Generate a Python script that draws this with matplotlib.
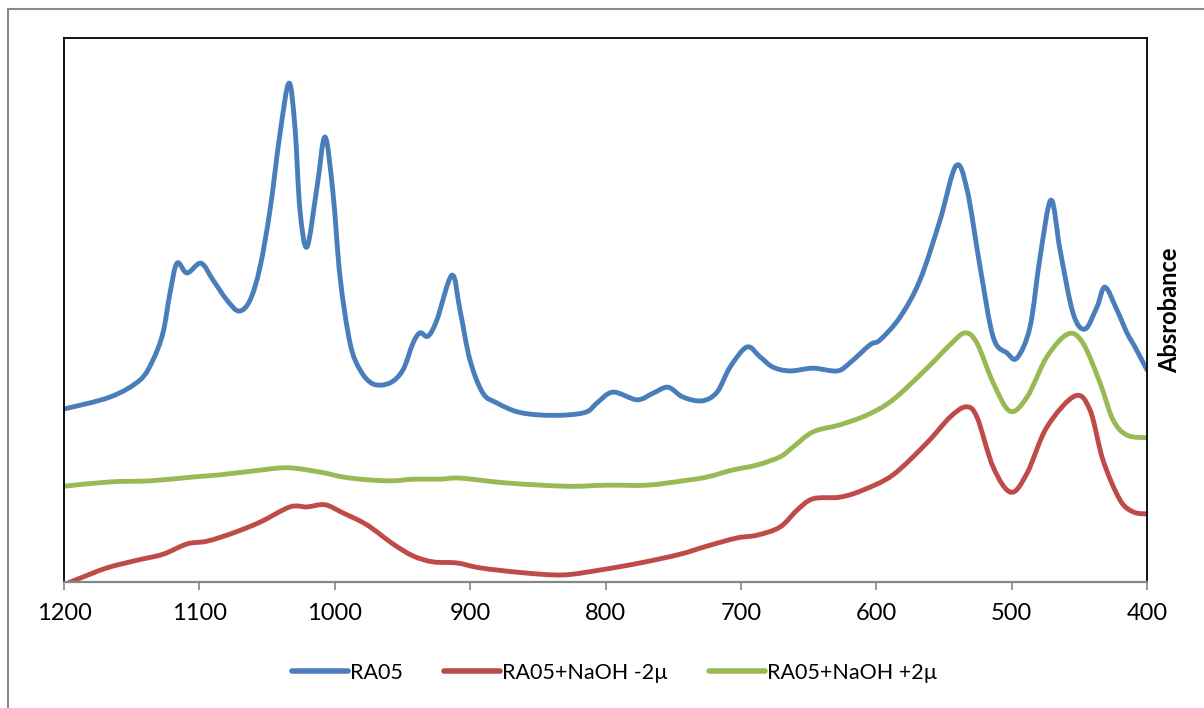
import numpy as np
import matplotlib
matplotlib.use("Agg")
import matplotlib.pyplot as plt
from matplotlib.path import Path
from matplotlib.patches import PathPatch, Rectangle
from matplotlib.lines import Line2D

plt.rcParams['font.family'] = ['Lato', 'DejaVu Sans']

# Wavenumber (cm-1) and absorbance (a.u.) for each sample
ra05_wn = [1200, 1166.0, 1144.0, 1134.3, 1126.9, 1121.7, 1116.5, 1109.1, 1098.8, 1089.9,
           1079.6, 1070.7, 1062.6, 1055.2, 1047.8, 1040.4, 1033.8, 1029.4, 1025.7, 1020.5,
           1013.1, 1007.2, 1001.3, 996.1, 988.7, 981.3, 971.7, 959.2, 949.6, 942.2,
           937.0, 931.1, 924.5, 913.4, 907.5, 900.1, 890.5, 880.1, 865.4, 848.4,
           828.4, 813.7, 806.3, 794.5, 776.7, 764.9, 753.8, 742.8, 728.7, 717.6,
           708.0, 695.5, 685.9, 676.3, 663.7, 646.7, 628.9, 619.4, 604.6, 597.2,
           582.4, 567.7, 552.9, 541.1, 532.9, 523.3, 513.6, 503.4, 496.0, 486.4,
           479.0, 470.9, 464.2, 454.6, 445.8, 436.9, 431.0, 422.2, 414.8, 408.9, 400]
ra05_abs = [0.318, 0.340, 0.371, 0.408, 0.458, 0.531, 0.586, 0.568, 0.586,
            0.555, 0.518, 0.498, 0.518, 0.579, 0.684, 0.825, 0.917, 0.836, 0.684,
            0.616, 0.726, 0.818, 0.715, 0.561, 0.439, 0.390, 0.364, 0.366, 0.390,
            0.439, 0.458, 0.452, 0.482, 0.564, 0.500, 0.408, 0.347, 0.329, 0.313,
            0.307, 0.307, 0.313, 0.329, 0.349, 0.335, 0.347, 0.358, 0.340, 0.333,
            0.349, 0.395, 0.432, 0.414, 0.395, 0.388, 0.393, 0.388, 0.403, 0.436,
            0.445, 0.487, 0.555, 0.665, 0.765, 0.721, 0.579, 0.450, 0.421, 0.412,
            0.469, 0.597, 0.702, 0.610, 0.494, 0.465, 0.506, 0.542, 0.500, 0.458,
            0.432, 0.390]

minus_wn = [1200, 1188.2, 1168.2, 1146.1, 1126.9, 1109.1, 1094.4, 1075.2, 1055.2, 1033.1,
            1020.5, 1007.2, 993.9, 976.2, 957.0, 942.2, 927.4, 909.7, 892.7, 860.9,
            831.4, 804.1, 774.5, 745.0, 725.0, 702.9, 688.1, 671.1, 658.5, 646.7,
            626.8, 609.8, 587.6, 562.5, 545.5, 533.7, 525.6, 513.6, 500.5, 488.6,
            473.9, 453.2, 442.1, 432.5, 420.0, 410.3, 400]
minus_abs = [-0.005, 0.007, 0.026, 0.040, 0.051, 0.070, 0.075, 0.090, 0.110, 0.138,
             0.138, 0.142, 0.127, 0.105, 0.070, 0.048, 0.037, 0.035, 0.026, 0.017,
             0.013, 0.022, 0.035, 0.051, 0.066, 0.081, 0.086, 0.101, 0.132, 0.153,
             0.156, 0.169, 0.197, 0.256, 0.303, 0.322, 0.303, 0.211, 0.165, 0.200,
             0.285, 0.342, 0.316, 0.224, 0.151, 0.129, 0.125]

plus_wn = [1200, 1166.0, 1136.5, 1104.7, 1084.8, 1060.4, 1035.3, 1010.9, 993.9, 976.2,
           957.0, 942.2, 922.3, 907.5, 872.8, 828.4, 798.9, 769.3, 742.8, 725.0,
           705.8, 688.1, 671.1, 661.5, 646.7, 626.8, 606.8, 587.6, 562.5, 545.5,
           534.4, 525.6, 513.6, 501.2, 488.6, 473.9, 458.3, 447.3, 434.7, 425.1,
           414.8, 400]
plus_abs = [0.176, 0.184, 0.186, 0.193, 0.197, 0.204, 0.210, 0.202, 0.193, 0.188,
            0.186, 0.189, 0.189, 0.191, 0.182, 0.176, 0.178, 0.178, 0.186, 0.193,
            0.206, 0.215, 0.230, 0.248, 0.276, 0.289, 0.307, 0.335, 0.393, 0.436,
            0.458, 0.439, 0.366, 0.314, 0.340, 0.414, 0.456, 0.439, 0.366, 0.298,
            0.270, 0.265]

series_labels = ['RA05', 'RA05+NaOH -2µ', 'RA05+NaOH +2µ']
series_colors = ['#4A7EBB', '#BE4B48', '#98B954']
x_ticks = [1200, 1100, 1000, 900, 800, 700, 600, 500, 400]


def smooth_path(x, y):
    """Cubic Bezier path through the points (Catmull-Rom style tangents)."""
    pts = np.column_stack([x, y]).astype(float)
    n = len(pts)
    verts = [pts[0]]
    codes = [Path.MOVETO]
    for i in range(n - 1):
        p0 = pts[i - 1] if i > 0 else pts[i]
        p1 = pts[i]
        p2 = pts[i + 1]
        p3 = pts[i + 2] if i + 2 < n else pts[i + 1]
        c1 = p1 + (p2 - p0) / 6.0
        c2 = p2 - (p3 - p1) / 6.0
        verts += [c1, c2, p2]
        codes += [Path.CURVE4] * 3
    return Path(verts, codes)


W, H = 1204, 708
fig = plt.figure(figsize=(W / 100, H / 100), dpi=100)

# outer chart frame
fig.patches.append(Rectangle((7.5 / W, -0.1), 1.2, (H - 9.0) / H + 0.1,
                             transform=fig.transFigure, fill=False,
                             edgecolor='#898989', linewidth=1.5))

ax = fig.add_axes([64 / W, (H - 582) / H, (1147 - 64) / W, (582 - 38) / H])

line_w = 3.5
for (xs, ys), color in zip([(ra05_wn, ra05_abs), (minus_wn, minus_abs), (plus_wn, plus_abs)],
                           series_colors):
    ax.add_patch(PathPatch(smooth_path(xs, ys), fill=False, edgecolor=color,
                           linewidth=line_w, capstyle='round', joinstyle='round'))

ax.set_xlim(1200, 400)
ax.set_ylim(0, 1)
ax.set_xticks(x_ticks)
ax.set_xticklabels([str(t) for t in x_ticks])
ax.set_yticks([])
ax.tick_params(axis='x', direction='out', length=6, width=1.2, color='#868686',
               labelsize=17, pad=9, labelcolor='black')

for side in ['left', 'top', 'right']:
    ax.spines[side].set_color('black')
    ax.spines[side].set_linewidth(1.3)
ax.spines['bottom'].set_color('#868686')
ax.spines['bottom'].set_linewidth(1.6)

fig.text(1170 / W, (H - 310) / H, 'Absrobance', rotation=90, ha='center', va='center',
         fontsize=17, fontweight='bold')

handles = [Line2D([], [], color=c, linewidth=4.0, solid_capstyle='round')
           for c in series_colors]
fig.legend(handles, series_labels, loc='center', bbox_to_anchor=(615 / W, (H - 673) / H),
           ncol=3, frameon=False, fontsize=15.5, handlelength=2.6, handletextpad=0.1,
           columnspacing=1.9)

fig.savefig('out.png', dpi=100)
